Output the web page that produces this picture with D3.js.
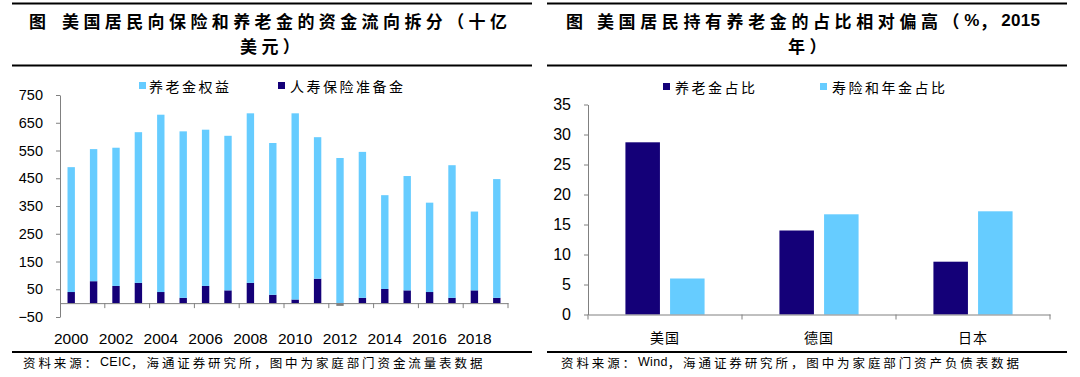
<!DOCTYPE html>
<html>
<head>
<meta charset="utf-8">
<script src="https://cdn.jsdelivr.net/npm/d3@7"></script>
<style>
  body { margin: 0; background: #fff; }
  svg { display: block; }
</style>
</head>
<body>
<svg id="chart" width="1080" height="377"></svg>
<script>
// left chart: flows into insurance & pensions (bn USD)
const years = [2000, 2001, 2002, 2003, 2004, 2005, 2006, 2007, 2008, 2009,
               2010, 2011, 2012, 2013, 2014, 2015, 2016, 2017, 2018, 2019];
const pensionEquity = [450, 476, 498, 543, 639, 600, 563, 557, 611, 547,
                       671, 510, 523, 526, 338, 412, 322, 478, 284, 428];
const lifeReserves = [40, 79, 62, 73, 40, 19, 62, 46, 73, 30,
                      13, 88, -10, 19, 51, 46, 40, 19, 46, 19];
const leftYTicks = [-50, 50, 150, 250, 350, 450, 550, 650, 750];
const leftXLabels = [2000, 2002, 2004, 2006, 2008, 2010, 2012, 2014, 2016, 2018];

// right chart: share of household assets (%, 2015)
const countries = ['美国', '德国', '日本'];
const pensionShare = [28.7, 14.0, 8.8];
const lifeAnnuityShare = [6.0, 16.7, 17.2];
const rightYTicks = [0, 5, 10, 15, 20, 25, 30, 35];

const dark = '#140078', light = '#66ccff', grey = '#808080';
const cnFont = '"Noto Sans CJK SC", sans-serif';
const numFont = '"Liberation Sans", Arial, sans-serif';

const svg = d3.select('#chart');

// header / footer rules
[{ x0: 12, x1: 532 }, { x0: 547, x1: 1067 }].forEach(p => {
    [3.5, 65.5, 352].forEach(y => {
        svg.append('line')
            .attr('x1', p.x0).attr('x2', p.x1)
            .attr('y1', y).attr('y2', y)
            .attr('stroke', '#000').attr('stroke-width', 2);
    });
});

// text made of pieces; latin pieces get Arial and no extra spacing
const addText = (x, y, parts, size, opts = {}) => {
    const t = svg.append('text')
        .attr('x', x).attr('y', y)
        .attr('dominant-baseline', 'central')
        .attr('font-family', cnFont)
        .attr('font-size', size)
        .attr('font-weight', opts.bold ? 700 : 400)
        .attr('fill', '#000');
    if (opts.len) t.attr('textLength', opts.len).attr('lengthAdjust', 'spacing');
    [].concat(parts).forEach(p => {
        const latin = typeof p === 'object';
        const s = t.append('tspan').text(latin ? p.t : p)
            .attr('letter-spacing', latin ? 0.3 : (opts.ls || 0));
        if (latin) s.attr('font-family', numFont);
    });
    return t;
};

// titles
addText(29, 20, '图', 17, { bold: true });
addText(62, 20, '美国居民向保险和养老金的资金流向拆分（十亿', 17, { bold: true, ls: 4.4 });
addText(240, 44.7, '美元）', 17, { bold: true, ls: 4.4 });
addText(566, 20, '图', 17, { bold: true });
addText(597, 20, ['美国居民持有养老金的占比相对偏高（', { t: '%' }, '，', { t: '2015' }], 17, { bold: true, ls: 4.6 });
addText(788, 44.7, '年）', 17, { bold: true, ls: 4.4 });

// footnotes
addText(23, 361.5, ['资料来源：', { t: 'CEIC' }, '，海通证券研究所，图中为家庭部门资金流量表数据'], 12.5, { ls: 2.9 });
addText(561, 361.5, ['资料来源：', { t: 'Wind' }, '，海通证券研究所，图中为家庭部门资产负债表数据'], 12.5, { ls: 2.9 });

// legends
const legendItems = [
    { label: '养老金权益', color: light, sq: 139, tx: 149, len: 80, y: 85.5 },
    { label: '人寿保险准备金', color: dark, sq: 278, tx: 290, len: 113, y: 85.5 },
    { label: '养老金占比', color: dark, sq: 663, tx: 675, len: 80, y: 86.5 },
    { label: '寿险和年金占比', color: light, sq: 820, tx: 832, len: 113, y: 86.5 }
];
legendItems.forEach(d => {
    svg.append('rect')
        .attr('x', d.sq).attr('y', d.y - 3.5)
        .attr('width', 7).attr('height', 7)
        .attr('fill', d.color);
    addText(d.tx, d.y, d.label, 14, { len: d.len });
});

const styleAxis = (g, size, font) => {
    g.select('.domain').attr('stroke', grey);
    g.selectAll('.tick line').attr('stroke', grey);
    g.selectAll('.tick text')
        .attr('font-family', font)
        .attr('font-size', size)
        .attr('fill', '#000');
};

// ---------- left chart ----------
const xL = d3.scaleBand().domain(years).range([60, 508]);
const yL = d3.scaleLinear().domain([-50, 750]).range([317, 95]);
const barW = xL.bandwidth() * 0.33;

const rows = years.map((y, i) => ({ year: y, life: lifeReserves[i], pension: pensionEquity[i] }));
const stacked = d3.stack()
    .keys(['life', 'pension'])
    .offset(d3.stackOffsetDiverging)(rows);

svg.append('g')
    .selectAll('g')
    .data(stacked)
    .enter()
    .append('g')
    .each(function (s) {
        d3.select(this).selectAll('rect')
            .data(s)
            .enter()
            .append('rect')
            .attr('x', d => xL(d.data.year) + (xL.bandwidth() - barW) / 2)
            .attr('y', d => yL(d[1]))
            .attr('width', barW)
            .attr('height', d => yL(d[0]) - yL(d[1]))
            .attr('fill', d => s.key === 'pension' ? light : (d.data.life < 0 ? grey : dark));
    });

svg.append('g')
    .attr('transform', 'translate(60,0)')
    .call(d3.axisLeft(yL).tickValues(leftYTicks).tickSize(4).tickPadding(13).tickSizeOuter(0))
    .call(g => styleAxis(g, 14.5, numFont));

const xAxisL = svg.append('g')
    .attr('transform', 'translate(0,' + yL(0) + ')')
    .call(d3.axisBottom(xL).tickValues(leftXLabels).tickSize(0).tickSizeOuter(0))
    .call(g => styleAxis(g, 15.5, numFont));
xAxisL.selectAll('.tick text').attr('y', 35).attr('dy', '0.35em');
xAxisL.selectAll('line.bound')
    .data(years.filter((y, i) => i > 0 && i % 2 === 0).map(y => xL(y)).concat([xL.range()[1]]))
    .enter()
    .append('line')
    .attr('class', 'bound')
    .attr('x1', d => d).attr('x2', d => d)
    .attr('y1', 0).attr('y2', 5)
    .attr('stroke', grey);

// ---------- right chart ----------
const xR = d3.scaleBand().domain(countries).range([588, 1050]);
const xRi = d3.scaleBand()
    .domain(['pension', 'lifeAnn'])
    .range([xR.bandwidth() * 0.243, xR.bandwidth() * 0.757])
    .paddingInner(0.227);
const yR = d3.scaleLinear().domain([0, 35]).range([314.5, 104.5]);

const rightRows = countries.map((c, i) => ({ country: c, pension: pensionShare[i], lifeAnn: lifeAnnuityShare[i] }));
const colorR = { pension: dark, lifeAnn: light };

svg.append('g')
    .selectAll('g')
    .data(rightRows)
    .enter()
    .append('g')
    .attr('transform', d => 'translate(' + xR(d.country) + ',0)')
    .selectAll('rect')
    .data(d => ['pension', 'lifeAnn'].map(k => ({ key: k, value: d[k] })))
    .enter()
    .append('rect')
    .attr('x', d => xRi(d.key))
    .attr('y', d => yR(d.value))
    .attr('width', xRi.bandwidth())
    .attr('height', d => yR(0) - yR(d.value))
    .attr('fill', d => colorR[d.key]);

svg.append('g')
    .attr('transform', 'translate(588,0)')
    .call(d3.axisLeft(yR).tickValues(rightYTicks).tickSize(4).tickPadding(13).tickSizeOuter(0))
    .call(g => styleAxis(g, 16, numFont));

const xAxisR = svg.append('g')
    .attr('transform', 'translate(0,' + yR(0) + ')')
    .call(d3.axisBottom(xR).tickSize(0).tickSizeOuter(0))
    .call(g => styleAxis(g, 14, cnFont));
xAxisR.selectAll('.tick text').attr('y', 23).attr('dy', '0.38em').attr('letter-spacing', 1);
xAxisR.selectAll('line.bound')
    .data(countries.map(c => xR(c)).concat([xR.range()[1]]))
    .enter()
    .append('line')
    .attr('class', 'bound')
    .attr('x1', d => d).attr('x2', d => d)
    .attr('y1', 0).attr('y2', 5)
    .attr('stroke', grey);
</script>
</body>
</html>
